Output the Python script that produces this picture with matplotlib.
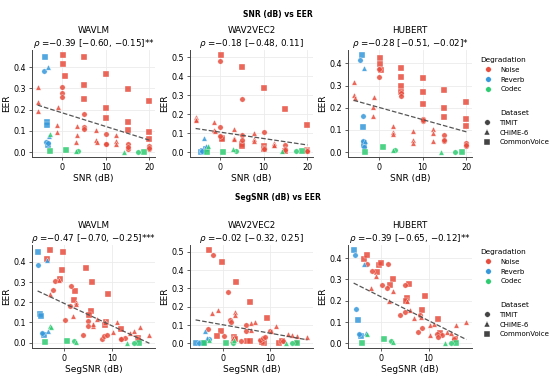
import matplotlib
matplotlib.use("Agg")
import matplotlib.pyplot as plt
from matplotlib.lines import Line2D
from matplotlib.ticker import MultipleLocator
import numpy as np

models = ["WAVLM", "WAV2VEC2", "HUBERT"]
row_titles = ["SNR (dB) vs EER", "SegSNR (dB) vs EER"]
x_labels = ["SNR (dB)", "SegSNR (dB)"]
snr_stats = [r"$\rho$ =−0.39 [−0.60, −0.15]**",
             r"$\rho$ =−0.18 [−0.48, 0.11]",
             r"$\rho$ =−0.28 [−0.51, −0.02]*"]
segsnr_stats = [r"$\rho$ =−0.47 [−0.70, −0.25]***",
                r"$\rho$ =−0.02 [−0.32, 0.25]",
                r"$\rho$ =−0.39 [−0.65, −0.12]**"]

degradations = ["Noise", "Reverb", "Codec"]
datasets = ["TIMIT", "CHiME-6", "CommonVoice"]
# group code: degradation (N/R/C) + dataset (T=TIMIT, C=CHiME-6, V=CommonVoice)
deg_colors = {"N": "#e74c3c", "R": "#3498db", "C": "#2ecc71"}
ds_markers = {"T": "o", "C": "^", "V": "s"}

# ---- SNR row ----
wavlm_snr_x = [0.2, 0.2, 0.5, 5, 5, 5, 10, 10, 10, 15, 15, 15, 20, 20, 20,
               0, 0, 0, 5, 5, 5, 10, 10, 10, 15, 15, 15, 20, 20, 20,
               -5.7, -5.7, -5.6, -1.1, -1.2, -1.3, 3.3, 3.3, 3.2, 7.8, 7.8, 7.9, 12.3, 12.3, 12.3,
               -3.9, -3.5, -3.5, -3.3, -4.3, -3.8, -3.4, -3.4, -3.1,
               -2.9, 0.8, 18.7, 3.6, 17.4, -2.8, 3.2, 14.2]
wavlm_snr_y = [0.458, 0.414, 0.357, 0.447, 0.317, 0.251, 0.369, 0.21, 0.16, 0.296, 0.14, 0.102, 0.24, 0.093, 0.064,
               0.306, 0.278, 0.26, 0.179, 0.116, 0.108, 0.085, 0.036, 0.04, 0.039, 0.016, 0.022, 0.027, 0.016, 0.02,
               0.306, 0.238, 0.195, 0.213, 0.129, 0.096, 0.121, 0.082, 0.05, 0.102, 0.055, 0.046, 0.082, 0.053, 0.039,
               0.447, 0.14, 0.13, 0.035, 0.38, 0.05, 0.043, 0.40, 0.075,
               0.003, 0.008, 0.0, 0.006, 0.0, 0.086, 0.006, 0.0]
wavlm_snr_g = ["NV"] * 15 + ["NT"] * 15 + ["NC"] * 15 + ["RV"] * 4 + ["RT"] * 3 + ["RC"] * 2 + \
              ["CV"] * 3 + ["CT"] * 2 + ["CC"] * 3

wav2vec2_snr_x = [0.2, 0.6, 0.6, 5, 5, 5, 10, 10, 10, 15, 15, 15, 20, 20, 20,
                  0, 0, 0, 5, 5, 5, 10, 10, 10, 15, 15, 15, 20, 20, 20,
                  -5.5, -5.5, -5.5, -1.2, -1.2, -1.1, 3.2, 3.2, 3.3, 7.8, 7.8, 7.8, 12.4, 12.4, 12.4,
                  -4.3, -3.8, -3.1, -4.1, -3.0, -3.6, -3.2,
                  -2.9, 0.8, 18.8, 3.8, 17.3, -2.6, 3.0, 14.2]
wav2vec2_snr_y = [0.512, 0.074, 0.068, 0.446, 0.044, 0.033, 0.337, 0.03, 0.018, 0.228, 0.007, 0.004, 0.142, 0.012, 0.004,
                  0.481, 0.13, 0.083, 0.281, 0.088, 0.065, 0.104, 0.022, 0.015, 0.035, 0.018, 0.01, 0.01, 0.006, 0.004,
                  0.184, 0.174, 0.167, 0.156, 0.118, 0.112, 0.121, 0.074, 0.068, 0.1, 0.068, 0.056, 0.047, 0.04, 0.037,
                  0.002, 0.004, 0.015, 0.007, 0.021, 0.074, 0.03,
                  0.0, 0.003, 0.004, 0.004, 0.004, 0.03, 0.018, 0.004]
wav2vec2_snr_g = ["NV"] * 15 + ["NT"] * 15 + ["NC"] * 15 + ["RV"] * 3 + ["RT"] * 2 + ["RC"] * 2 + \
                 ["CV"] * 3 + ["CT"] * 2 + ["CC"] * 3

hubert_snr_x = [0.3, 0.3, 0.5, 5, 5, 5, 5, 10, 10, 10, 15, 15, 15, 20, 20, 20,
                0, 0, 5, 5, 10, 10, 10, 15, 15, 15, 20, 20, 20,
                -5.7, -5.6, -5.5, -1.1, -1.2, -1.2, 3.3, 3.3, 3.3, 7.8, 7.8, 7.8, 12.3, 12.3, 12.3,
                -3.8, -3.6, -3.4, -3.3, -4.2, -3.6, -3.6, -3.3, -3.4, -3.2,
                -3.2, 0.9, 18.9, 3.8, 17.4, 3.2, 14.2]
hubert_snr_y = [0.423, 0.399, 0.37, 0.378, 0.337, 0.3, 0.27, 0.335, 0.27, 0.218, 0.282, 0.2, 0.159, 0.225, 0.151, 0.116,
                0.375, 0.338, 0.267, 0.255, 0.15, 0.139, 0.145, 0.079, 0.048, 0.055, 0.041, 0.026, 0.033,
                0.316, 0.256, 0.242, 0.248, 0.202, 0.162, 0.119, 0.089, 0.08, 0.094, 0.053, 0.041, 0.104, 0.086, 0.05,
                0.438, 0.112, 0.041, 0.03, 0.414, 0.162, 0.048, 0.023, 0.378, 0.048,
                0.0, 0.023, 0.0, 0.011, 0.0, 0.011, 0.0]
hubert_snr_g = ["NV"] * 16 + ["NT"] * 13 + ["NC"] * 15 + ["RV"] * 4 + ["RT"] * 4 + ["RC"] * 2 + \
               ["CV"] * 3 + ["CT"] * 2 + ["CC"] * 2

# ---- SegSNR row ----
wavlm_seg_x = [-3.1, -3.7, -0.4, -0.6, -1.0, 4.6, 5.8, 2.3, 2.0, 9.3, 5.7, 5.2, 8.7, 8.5, 11.9, 15.6,
               -2.4, -2.0, 1.4, 1.1, 0.2, 4.9, 4.9, 3.9, 7.9, 8.4, 9.1, 11.9, 12.8, 15.5, 11.9,
               -3.0, -1.2, 2.5, 2.5, 1.7, 6.0, 6.0, 6.9, 11.2, 10.2, 13.8, 14.8, 15.9, 18.0, 8.6,
               -5.7, -5.2, -5.0, -4.3, -5.6, -4.7, -3.7, -3.4,
               -4.1, 0.6, 15.7, 2.1, 14.7, -3.1, -2.9, 2.4, 13.3]
wavlm_seg_y = [0.46, 0.416, 0.451, 0.36, 0.316, 0.371, 0.302, 0.254, 0.21, 0.241, 0.157, 0.138, 0.102, 0.087, 0.067, 0.022,
               0.262, 0.305, 0.278, 0.181, 0.114, 0.106, 0.083, 0.038, 0.019, 0.035, 0.04, 0.019, 0.024, 0.019, 0.016,
               0.241, 0.308, 0.2, 0.19, 0.13, 0.083, 0.09, 0.119, 0.103, 0.054, 0.048, 0.059, 0.078, 0.04, 0.1,
               0.451, 0.143, 0.133, 0.038, 0.384, 0.05, 0.408, 0.059,
               0.003, 0.008, 0.0, 0.008, 0.0, 0.083, 0.075, 0.005, 0.0]
wavlm_seg_g = ["NV"] * 16 + ["NT"] * 15 + ["NC"] * 15 + ["RV"] * 4 + ["RT"] * 2 + ["RC"] * 2 + \
              ["CV"] * 3 + ["CT"] * 2 + ["CC"] * 4

wav2vec2_seg_x = [-3.1, -0.35, 2.7, 5.8, 9.3, -0.5, -1.3, 2.3, 2.5, 5.0, 5.7, 8.7, 11.9, 8.2, 12.5,
                  -2.2, 1.1, 1.4, 1.6, 4.9, 4.8, -3.3, 0.2, 3.9, 7.9, 8.5, 9.0, 10.1, 12.8, 15.6,
                  -2.3, -1.2, 2.5, 2.5, 5.9, 6.9, 6.0, 11.3, 13.8, 14.8, 15.7, 18.0, 1.8, 2.2, 10.2,
                  -5.9, -4.6, -4.0, -5.2, -3.1, -3.8, -3.5,
                  -4.1, 0.6, 15.7, 2.0, 14.8, -3.1, 2.4, 13.4]
wav2vec2_seg_y = [0.512, 0.446, 0.336, 0.225, 0.14, 0.069, 0.039, 0.034, 0.025, 0.012, 0.012, 0.004, 0.004, 0.009, 0.012,
                  0.481, 0.278, 0.127, 0.119, 0.1, 0.065, 0.08, 0.039, 0.012, 0.018, 0.03, 0.034, 0.065, 0.012, 0.005,
                  0.166, 0.18, 0.172, 0.154, 0.11, 0.119, 0.074, 0.097, 0.053, 0.044, 0.039, 0.035, 0.02, 0.03, 0.066,
                  0.0, 0.0, 0.0, 0.0, 0.021, 0.07, 0.027,
                  0.0, 0.0, 0.0, 0.0, 0.0, 0.018, 0.016, 0.0]
wav2vec2_seg_g = ["NV"] * 15 + ["NT"] * 15 + ["NC"] * 15 + ["RV"] * 3 + ["RT"] * 2 + ["RC"] * 2 + \
                 ["CV"] * 3 + ["CT"] * 2 + ["CC"] * 3

hubert_seg_x = [-3.6, -3.1, -0.5, -0.15, -1.0, 2.5, 1.9, 5.9, 5.5, 5.1, 9.3, 8.6, 11.9, 15.5, 12.5,
                -3.1, -2.1, 1.4, 0.2, 1.1, 4.9, 3.9, 4.9, 8.1, 7.7, 8.7, 11.8, 12.8, 11.9, 15.3,
                -2.2, -1.2, 1.6, 2.4, 6.0, 7.0, 8.3, 10.2, 11.2, 10.3, 14.0, 14.8, 15.8, 18.0, 5.5,
                -5.9, -5.0, -4.3, -5.6, -5.4, -4.7, -3.6, -3.3,
                -4.1, 0.6, 15.8, 2.0, 14.7, -3.0, 2.4, 13.4]
hubert_seg_y = [0.395, 0.417, 0.37, 0.379, 0.335, 0.303, 0.274, 0.279, 0.212, 0.197, 0.222, 0.157, 0.115, 0.021, 0.05,
                0.375, 0.34, 0.375, 0.274, 0.258, 0.274, 0.133, 0.145, 0.133, 0.055, 0.073, 0.043, 0.037, 0.028, 0.021,
                0.26, 0.315, 0.2, 0.245, 0.157, 0.118, 0.125, 0.085, 0.093, 0.04, 0.055, 0.048, 0.085, 0.1, 0.2,
                0.44, 0.11, 0.035, 0.413, 0.16, 0.045, 0.375, 0.05,
                0.0, 0.021, 0.0, 0.01, 0.0, 0.045, 0.007, 0.0]
hubert_seg_g = ["NV"] * 15 + ["NT"] * 15 + ["NC"] * 15 + ["RV"] * 3 + ["RT"] * 3 + ["RC"] * 2 + \
               ["CV"] * 3 + ["CT"] * 2 + ["CC"] * 3

panels = [
    [(wavlm_snr_x, wavlm_snr_y, wavlm_snr_g),
     (wav2vec2_snr_x, wav2vec2_snr_y, wav2vec2_snr_g),
     (hubert_snr_x, hubert_snr_y, hubert_snr_g)],
    [(wavlm_seg_x, wavlm_seg_y, wavlm_seg_g),
     (wav2vec2_seg_x, wav2vec2_seg_y, wav2vec2_seg_g),
     (hubert_seg_x, hubert_seg_y, hubert_seg_g)],
]
stats = [snr_stats, segsnr_stats]

W, H = 550, 374
fig = plt.figure(figsize=(5.5, 3.74), dpi=100)

col_left = [32, 190, 348]
col_width = [123, 123, 124]
row_top = [50, 245]
row_bottom = [157, 348]
suptitle_y = [15, 198]
legend_top = [(57, 110), (249, 302)]

edge = "#444444"

for r in range(2):
    for c in range(3):
        rect = [col_left[c] / W, 1 - row_bottom[r] / H,
                col_width[c] / W, (row_bottom[r] - row_top[r]) / H]
        ax = fig.add_axes(rect)
        xs, ys, gs = panels[r][c]
        x = np.array(xs, dtype=float)
        y = np.array(ys, dtype=float)
        g = np.array(gs)
        for code in ["NV", "NT", "NC", "RV", "RT", "RC", "CV", "CT", "CC"]:
            m = g == code
            if not m.any():
                continue
            ax.scatter(x[m], y[m], s=15, c=deg_colors[code[0]], marker=ds_markers[code[1]],
                       alpha=0.85, edgecolors="white", linewidths=0.3, zorder=3)
        # least-squares trend line over the data range
        k, b = np.polyfit(x, y, 1)
        xl = np.array([x.min(), x.max()])
        ax.plot(xl, k * xl + b, ls="--", color="#555555", lw=0.9, zorder=4)

        ax.set_title(models[c] + "\n" + stats[r][c], fontsize=6.3, pad=2.5, linespacing=1.2)
        ax.set_xlabel(x_labels[r], fontsize=6.5, labelpad=1.5)
        ax.set_ylabel("EER", fontsize=6.5, labelpad=2)
        ax.xaxis.set_major_locator(MultipleLocator(10))
        ax.yaxis.set_major_locator(MultipleLocator(0.1))
        ax.grid(color="#ebebeb", lw=0.6)
        ax.set_axisbelow(True)
        for s in ["top", "right"]:
            ax.spines[s].set_visible(False)
        for s in ["left", "bottom"]:
            ax.spines[s].set_color(edge)
            ax.spines[s].set_linewidth(0.7)
        ax.tick_params(labelsize=5.8, length=2.5, width=0.6, color=edge, pad=1.5)

    fig.text(0.505, 1 - suptitle_y[r] / H, row_titles[r], ha="center", va="center",
             fontsize=5.5, fontweight="bold")

    deg_handles = [Line2D([], [], ls="", marker="o", markersize=4, color=col,
                          markeredgecolor="white", markeredgewidth=0.3, label=lab)
                   for lab, col in zip(degradations, deg_colors.values())]
    ds_handles = [Line2D([], [], ls="", marker=mk, markersize=4, color="#444444",
                         markeredgecolor="white", markeredgewidth=0.3, label=lab)
                  for lab, mk in zip(datasets, ds_markers.values())]
    for handles, title, top in [(deg_handles, "Degradation", legend_top[r][0]),
                                (ds_handles, "Dataset", legend_top[r][1])]:
        fig.legend(handles=handles, title=title, loc="upper left",
                   bbox_to_anchor=(480 / W, 1 - top / H), frameon=False,
                   fontsize=5, title_fontsize=5.3, borderpad=0, borderaxespad=0,
                   labelspacing=0.55, handlelength=2, handletextpad=0.8)

fig.savefig("out.png", dpi=100)
